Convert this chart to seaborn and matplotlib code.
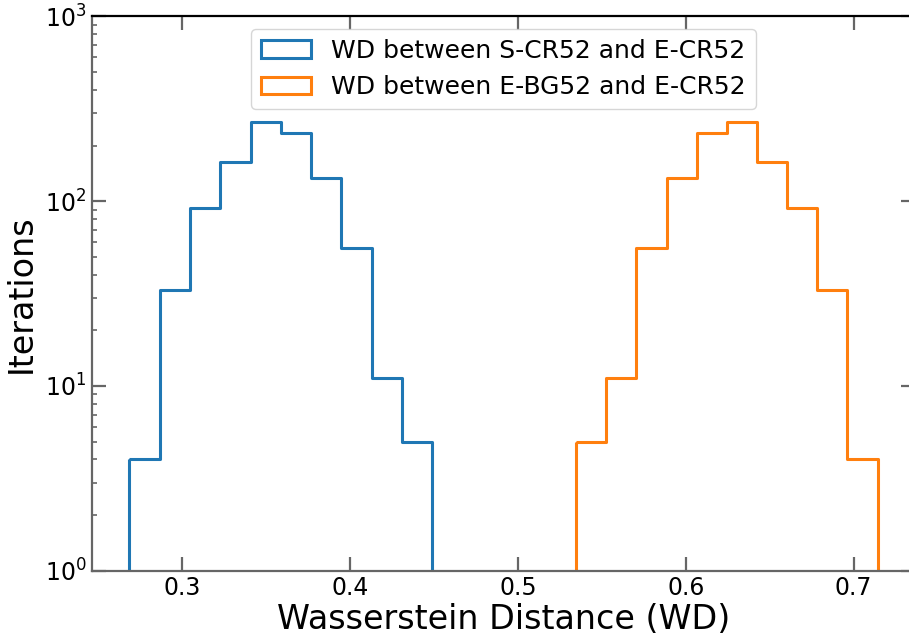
import numpy as np
import pandas as pd
import matplotlib
matplotlib.use("Agg")
import matplotlib.pyplot as plt
import seaborn as sns

# ---- data ----
labels = ["WD between S-CR52 and E-CR52", "WD between E-BG52 and E-CR52"]
colors = ["#1f77b4", "#ff7f0e"]
blue_start, blue_width = 0.2684, 0.01805
orange_start, orange_width = 0.5346, 0.01797
blue_counts = [4, 33, 92, 162, 268, 235, 134, 56, 11, 5]
orange_counts = [5, 11, 56, 134, 235, 268, 162, 92, 33, 4]
xticks = [0.3, 0.4, 0.5, 0.6, 0.7]
xticklabels = ["0.3", "0.4", "0.5", "0.6", "0.7"]
xlabel = "Wasserstein Distance (WD)"
ylabel = "Iterations"

sns.set_style("white")
plt.rcParams["font.family"] = ["DejaVu Sans"]
plt.rcParams["text.color"] = "black"
plt.rcParams["axes.labelcolor"] = "black"
plt.rcParams["xtick.color"] = "black"
plt.rcParams["ytick.color"] = "black"

fig = plt.figure(figsize=(9.09, 6.35), dpi=100)
ax = fig.add_axes([92 / 909, 64.3 / 635, 823 / 909, 554.3 / 635])

series = [(blue_start, blue_width, blue_counts), (orange_start, orange_width, orange_counts)]
for (start, width, counts), lab, col in zip(series, labels, colors):
    n = len(counts)
    edges = start + width * np.arange(n + 1)
    centers = (edges[:-1] + edges[1:]) / 2
    df = pd.DataFrame({"x": centers, "w": counts})
    sns.histplot(data=df, x="x", weights="w", bins=edges.tolist(), element="step",
                 fill=True, color=col, linewidth=2.2,
                 log_scale=(False, True), label=lab, ax=ax)
    coll = ax.collections[-1]
    coll.set_facecolor("none")
    coll.set_edgecolor(col)
    coll.set_linewidth(2.2)

ax.set_yscale("log")
ax.set_ylim(1, 1000)
ax.set_xticks(xticks)
ax.set_xticklabels(xticklabels)
ax.set_xlabel(xlabel, fontsize=24, labelpad=2, color="black")
ax.set_ylabel(ylabel, fontsize=24, labelpad=5, color="black")

gray = "#666666"
for side in ["left", "bottom", "right"]:
    ax.spines[side].set_color(gray)
    ax.spines[side].set_linewidth(1.6)
ax.spines["top"].set_color("black")
ax.spines["top"].set_linewidth(1.6)
for side in ax.spines:
    ax.spines[side].set_visible(True)

ax.tick_params(which="major", direction="in", length=10, width=1.6, color=gray,
               labelcolor="black", labelsize=17, top=True, right=True,
               bottom=True, left=True, pad=4)
ax.tick_params(axis="y", which="minor", direction="in", length=3.6, width=1.2,
               color=gray, left=True, right=True)
ax.tick_params(axis="x", which="minor", bottom=False, top=False)

leg = ax.legend(loc="upper center", fontsize=18, borderaxespad=0.5)
for t in leg.get_texts():
    t.set_color("black")

fig.savefig("out.png", dpi=100)
